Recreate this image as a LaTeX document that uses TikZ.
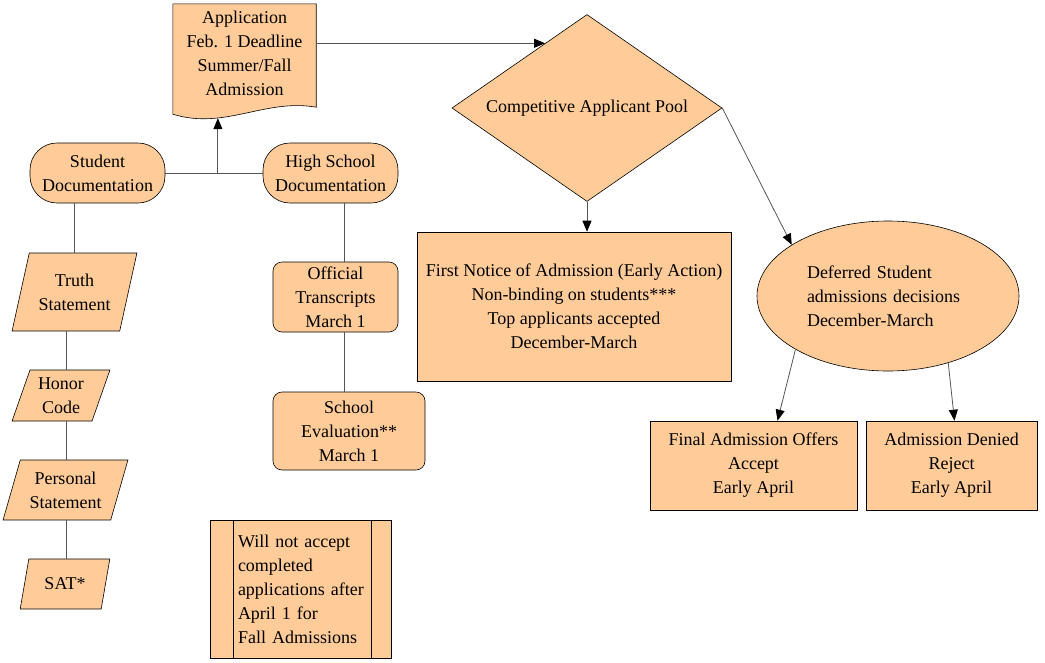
\documentclass[tikz,border=0pt]{standalone}
\usepackage{fontspec}
\setmainfont{Liberation Serif}
\usetikzlibrary{arrows.meta,positioning,shapes.geometric,calc,backgrounds}
\definecolor{peach}{RGB}{255,204,153}
\definecolor{wire}{RGB}{85,85,85}

\begin{document}
\begin{tikzpicture}[x=1pt,y=-1pt,font=\fontsize{18}{24}\selectfont,
  >={Triangle[length=11pt,width=9pt,color=black]},
  outline/.style={draw=black,fill=peach,line width=0.6pt},
  box/.style={outline,align=center},
  slant/.style={box,trapezium,trapezium left angle=70,trapezium right angle=110,
    trapezium stretches=true,inner sep=1pt},
  flow/.style={draw=wire,line width=0.8pt},
  link/.style={flow,->}]
  \useasboundingbox (0,0) rectangle (1045,662);

  % application (document shape)
  \node[align=center,minimum width=143pt,minimum height=96pt,inner sep=0] (app) at (244.5,53)
    {Application\\Feb. 1 Deadline\\Summer/Fall\\Admission};
  \begin{scope}[on background layer]
    \filldraw[outline] ([yshift=1pt]app.north west) -- ([yshift=1pt]app.north east) -- ([yshift=-6pt]app.south east)
      .. controls +(-51,-9) and +(52,16) .. ([yshift=-13pt]app.south west) -- cycle;
  \end{scope}

  % documentation
  \node[box,rounded corners=27pt,minimum width=135pt,minimum height=60pt] (stud) at (97.5,173) {Student\\Documentation};
  \node[box,rounded corners=27pt,minimum width=135pt,minimum height=60pt] (hs) at (330.5,173) {High School\\Documentation};
  \coordinate (join) at ($(stud.east)!0.54!(hs.west)$);
  \draw[flow] (stud.east) -- (hs.west);
  \draw[link] (join) -- ([yshift=-17pt]join |- app.south);

  % student column
  \node[slant,minimum width=125pt,minimum height=78pt] (truth) at (74.5,292) {Truth\\Statement};
  \node[slant,minimum width=98pt,minimum height=51pt] (honor) at (61,395.5) {Honor\\Code};
  \node[slant,minimum width=125pt,minimum height=60pt] (pers) at (65.5,490) {Personal\\Statement};
  \node[slant,minimum width=90pt,minimum height=50pt] (sat) at (65,584) {SAT*};
  \coordinate (spine) at (66,0);
  \draw[flow] ([xshift=-23pt]stud.south) -- ([xshift=-23pt]stud.south |- truth.north);
  \draw[flow] (truth.south -| spine) -- (honor.north -| spine);
  \draw[flow] (honor.south -| spine) -- (pers.north -| spine);
  \draw[flow] (pers.south -| spine) -- (sat.north -| spine);

  % high school column
  \node[box,rounded corners=9pt,minimum width=125pt,minimum height=70pt] (trans) at (335.5,297) {Official\\Transcripts\\March 1};
  \node[box,rounded corners=9pt,minimum width=152pt,minimum height=78pt] (eval) at (349,431) {School\\Evaluation**\\March 1};
  \coordinate (hsspine) at (344,0);
  \draw[flow] (hs.south -| hsspine) -- (trans.north -| hsspine);
  \draw[flow] (trans.south -| hsspine) -- (eval.north -| hsspine);

  % deadline note
  \node[box,minimum width=181pt,minimum height=138pt,text width=126pt,align=left] (note) at (301,589)
    {Will not accept\\completed\\applications after\\April 1 for\\Fall Admissions};
  \draw[outline] ([xshift=23pt]note.north west) -- ([xshift=23pt]note.south west);
  \draw[outline] ([xshift=-21pt]note.north east) -- ([xshift=-21pt]note.south east);

  % decisions
  \node[box,diamond,aspect=1.44,minimum width=270pt,minimum height=187pt,inner sep=0] (pool) at (587,108) {Competitive Applicant Pool};
  \coordinate (poolin) at ($(pool.north)!0.31!(pool.west)$);
  \draw[link] (app.east |- poolin) -- (poolin);
  \node[box,minimum width=314pt,minimum height=149pt] (notice) at (574,306.5)
    {First Notice of Admission (Early Action)\\Non-binding on students***\\Top applicants accepted\\December-March};
  \draw[link] (pool.south) -- (pool.south |- notice.north);
  \node[box,ellipse,minimum width=262pt,minimum height=150pt,text width=162pt,align=left,inner sep=0] (defer) at (888,296)
    {Deferred Student\\admissions decisions\\December-March};
  \draw[link] (pool.east) -- (defer.152);
  \node[box,minimum width=207pt,minimum height=89pt] (offer) at (753.5,465.5) {Final Admission Offers\\Accept\\Early April};
  \node[box,minimum width=171pt,minimum height=89pt] (deny) at (951.5,465.5) {Admission Denied\\Reject\\Early April};
  \draw[link] (defer.210) -- ([xshift=24pt]offer.north);
  \draw[link] (defer.312) -- ([xshift=3pt]deny.north);
\end{tikzpicture}
\end{document}
